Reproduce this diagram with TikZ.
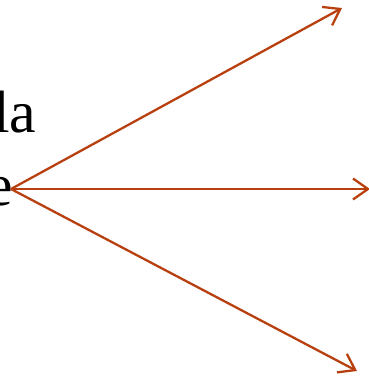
\documentclass[tikz,border=0pt]{standalone}
\usepackage{fontspec}
\setmainfont{Liberation Serif}
\usepackage{xcolor}
\usepackage{tikz}
\usetikzlibrary{arrows.meta,positioning}
\definecolor{rust}{HTML}{B8400F}

\begin{document}
\begin{tikzpicture}[
  x=1bp, y=-1bp,
  word/.style={inner sep=0pt, anchor=base west, font=\fontsize{60}{62}\selectfont},
  arr/.style={draw=rust, line width=2.3pt, -{Straight Barb[length=15bp, width=21bp, line width=2.3pt]}}
]
\useasboundingbox (0,0) rectangle (369,376);
\node[word] (la) at (-7,132) {la};
\node[word] (e) at (-14,205) {e};
\coordinate (src) at (11,189);
\coordinate (up) at (342,8);
\coordinate (mid) at (370,189);
\coordinate (down) at (357,371);
\draw[arr] (src) -- (up);
\draw[arr] (src) -- (mid);
\draw[arr] (src) -- (down);
\end{tikzpicture}
\end{document}
